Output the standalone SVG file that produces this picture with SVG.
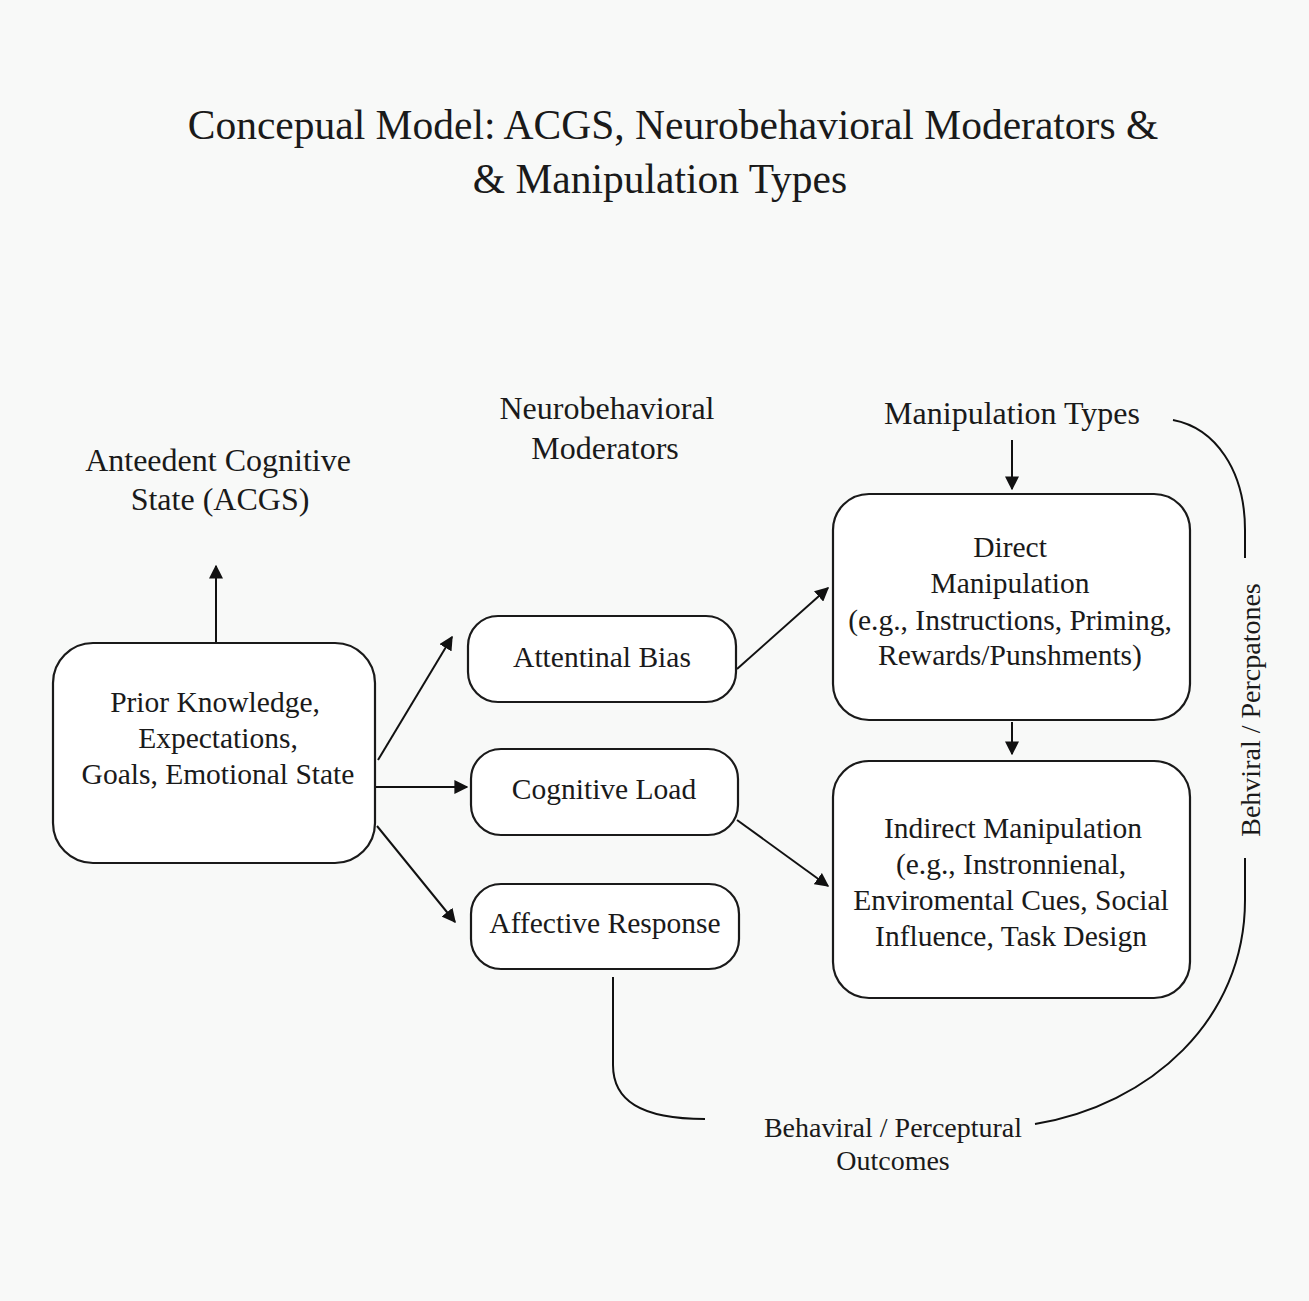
<svg xmlns="http://www.w3.org/2000/svg" width="1309" height="1301" viewBox="0 0 1309 1301">
<defs>
<marker id="ah" viewBox="0 0 10 10" refX="9" refY="5" markerWidth="14" markerHeight="14" markerUnits="userSpaceOnUse" orient="auto">
<path d="M0,0 L10,5 L0,10 Z" fill="#111"/>
</marker>
<style>
text{font-family:"Liberation Serif","DejaVu Serif",serif;fill:#1a1a1a;text-anchor:middle}
.t{font-size:41.5px}
.h{font-size:32px}
.n{font-size:29.5px}
.s{font-size:28px}
.box{fill:#fff;stroke:#1a1a1a;stroke-width:2.2}
.c{fill:none;stroke:#111;stroke-width:2}
</style>
</defs>
<rect width="1309" height="1301" fill="#f8f9f8"/>
<g id="title">
<text class="t" x="673" y="139">Concepual Model: ACGS, Neurobehavioral Moderators &amp;</text>
<text class="t" x="660" y="193">&amp; Manipulation Types</text>
</g>
<g id="label-acgs">
<text class="h" x="218" y="471">Anteedent Cognitive</text>
<text class="h" x="220" y="510">State (ACGS)</text>
</g>
<g id="label-moderators">
<text class="h" x="607" y="419">Neurobehavioral</text>
<text class="h" x="605" y="459">Moderators</text>
</g>
<g id="label-manip">
<text class="h" x="1012" y="424">Manipulation Types</text>
</g>
<g id="connectors">
<line class="c" x1="216" y1="643" x2="216" y2="566" marker-end="url(#ah)"/>
<line class="c" x1="378" y1="760" x2="452" y2="637" marker-end="url(#ah)"/>
<line class="c" x1="376" y1="787" x2="467" y2="787" marker-end="url(#ah)"/>
<line class="c" x1="377" y1="826" x2="455" y2="922" marker-end="url(#ah)"/>
<line class="c" x1="737" y1="669" x2="828" y2="588" marker-end="url(#ah)"/>
<line class="c" x1="737" y1="820" x2="828" y2="886" marker-end="url(#ah)"/>
<line class="c" x1="1012" y1="440" x2="1012" y2="489" marker-end="url(#ah)"/>
<line class="c" x1="1012" y1="722" x2="1012" y2="754" marker-end="url(#ah)"/>
<path class="c" d="M1173,420 C1215,428 1245,470 1245,530 L1245,558"/>
<path class="c" d="M1245,858 L1245,900 C1245,1020 1150,1105 1035,1124"/>
<path class="c" d="M613,977 L613,1065 C613,1100 640,1119 705,1119"/>
</g>
<g id="node-acgs">
<rect class="box" x="53" y="643" width="322" height="220" rx="40"/>
<text class="n" x="215" y="712">Prior Knowledge,</text>
<text class="n" x="218" y="748">Expectations,</text>
<text class="n" x="218" y="784">Goals, Emotional State</text>
</g>
<g id="node-attentional">
<rect class="box" x="468" y="616" width="268" height="86" rx="30"/>
<text class="n" x="602" y="667">Attentinal Bias</text>
</g>
<g id="node-cognitive">
<rect class="box" x="471" y="749" width="267" height="86" rx="30"/>
<text class="n" x="604" y="799">Cognitive Load</text>
</g>
<g id="node-affective">
<rect class="box" x="471" y="884" width="268" height="85" rx="30"/>
<text class="n" x="605" y="933">Affective Response</text>
</g>
<g id="node-direct">
<rect class="box" x="833" y="494" width="357" height="226" rx="36"/>
<text class="n" x="1010" y="557">Direct</text>
<text class="n" x="1010" y="593">Manipulation</text>
<text class="n" x="1010" y="630">(e.g., Instructions, Priming,</text>
<text class="n" x="1010" y="665">Rewards/Punshments)</text>
</g>
<g id="node-indirect">
<rect class="box" x="833" y="761" width="357" height="237" rx="36"/>
<text class="n" x="1013" y="838">Indirect Manipulation</text>
<text class="n" x="1011" y="874">(e.g., Instronnienal,</text>
<text class="n" x="1011" y="910">Enviromental Cues, Social</text>
<text class="n" x="1011" y="946">Influence, Task Design</text>
</g>
<g id="label-outcomes">
<text class="s" x="893" y="1137">Behaviral / Perceptural</text>
<text class="s" x="893" y="1170">Outcomes</text>
</g>
<g id="label-side">
<text class="s" transform="translate(1260,710) rotate(-90)">Behviral / Percpatones</text>
</g>
</svg>
